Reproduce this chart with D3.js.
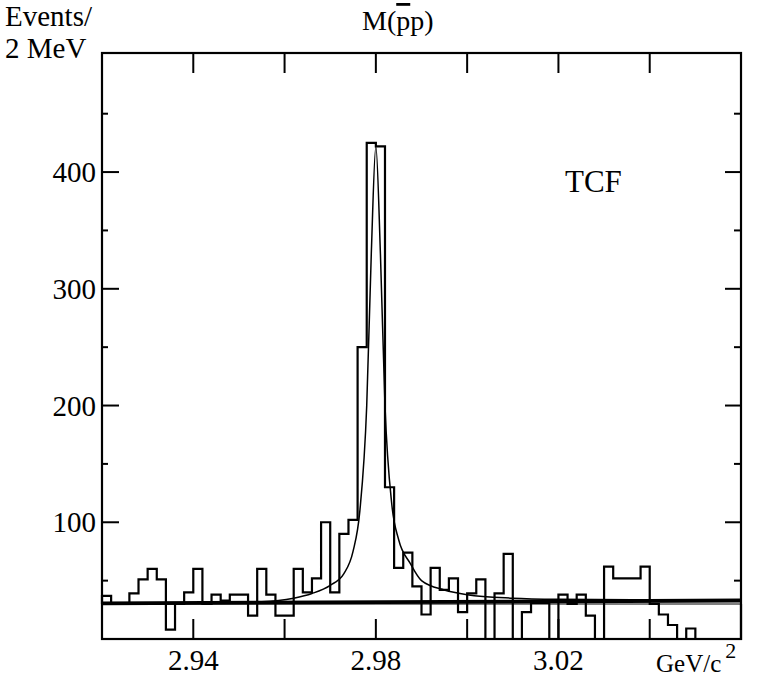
<!DOCTYPE html>
<html>
<head>
<meta charset="utf-8">
<script src="https://cdn.jsdelivr.net/npm/d3@7"></script>
<style>
  body { margin: 0; background: #fff; }
</style>
</head>
<body>
<div id="chart"></div>
<script>
// histogram: 2 MeV bins from 2.920 to 3.060 GeV
const binStart = 2.92;
const binWidth = 0.002;
const counts = [
  37, 30, 30, 39, 51, 60, 51, 8, 30, 40,
  60, 30, 38, 33, 38, 38, 20, 60, 38, 20,
  20, 60, 40, 52, 100, 40, 90, 102, 250, 425,
  422, 130, 61, 74, 45, 21, 61, 42, 52, 23,
  39, 51, 0, 39, 73, 0, 23, 31, 31, 0,
  38, 30, 38, 20, 0, 62, 52, 52, 52, 62,
  30, 21, 12, 0, 9, 0, 0, 0, 0, 0
];

// fitted curve
const fitMass = [2.920, 2.940, 2.955, 2.962, 2.966, 2.970, 2.973, 2.975, 2.9765, 2.978, 2.979, 2.980,
                 2.981, 2.982, 2.9835, 2.985, 2.9875, 2.990, 2.995, 3.000, 3.010, 3.020, 3.060];
const fitValue = [30.5, 31, 32, 35, 39, 46, 56, 75, 110, 200, 330, 422,
                  330, 200, 115, 85, 65, 50, 42, 38, 35, 34, 33];

// background lines
const bgMass = [2.92, 3.06];
const bgValue = [30.5, 33];
const flatLevel = 30;

const yMajor = [100, 200, 300, 400];
const yMinor = [50, 150, 250, 350, 450];
const xTicks = [2.94, 2.96, 2.98, 3.00, 3.02, 3.04];
const xLabels = [2.94, 2.98, 3.02];

const W = 764, H = 676;
const svg = d3.select("#chart").append("svg")
    .attr("width", W)
    .attr("height", H)
    .attr("font-family", "'Liberation Serif', 'Times New Roman', Tinos, 'DejaVu Serif', serif");

const x = d3.scaleLinear().domain([2.92, 3.06]).range([102, 741]);
const y = d3.scaleLinear().domain([0, 502]).range([639, 53]);

// histogram outline, stepping around the flat level
const pts = [[binStart, flatLevel]];
counts.forEach((c, i) => {
    pts.push([binStart + i * binWidth, c]);
    pts.push([binStart + (i + 1) * binWidth, c]);
});
pts.push([binStart + counts.length * binWidth, flatLevel]);

svg.append("path")
    .attr("d", d3.line().x(d => x(d[0])).y(d => y(d[1]))(pts))
    .attr("fill", "none")
    .attr("stroke", "#000")
    .attr("stroke-width", 2.2)
    .attr("stroke-linejoin", "miter");

// thin flat line
svg.append("line")
    .attr("x1", x(2.92)).attr("x2", x(3.06))
    .attr("y1", y(flatLevel)).attr("y2", y(flatLevel))
    .attr("stroke", "#000").attr("stroke-width", 1.2);

// thick background
svg.append("path")
    .attr("d", d3.line().x((d, i) => x(d)).y((d, i) => y(bgValue[i]))(bgMass))
    .attr("stroke", "#000").attr("stroke-width", 3.8).attr("fill", "none");

// fit curve
svg.append("path")
    .attr("d", d3.line().curve(d3.curveMonotoneX)
        .x(d => x(d)).y((d, i) => y(fitValue[i]))(fitMass))
    .attr("stroke", "#000").attr("stroke-width", 1.5).attr("fill", "none");

// frame
svg.append("rect")
    .attr("x", x(2.92)).attr("y", y(502))
    .attr("width", x(3.06) - x(2.92)).attr("height", y(0) - y(502))
    .attr("fill", "none").attr("stroke", "#000").attr("stroke-width", 2.2);

// y ticks, left (inward) and right (inward)
const tickG = svg.append("g").attr("stroke", "#000").attr("stroke-width", 2);
yMajor.forEach(v => {
    tickG.append("line").attr("x1", x(2.92)).attr("x2", x(2.92) + 17).attr("y1", y(v)).attr("y2", y(v));
    tickG.append("line").attr("x1", x(3.06)).attr("x2", x(3.06) - 16).attr("y1", y(v)).attr("y2", y(v));
});
yMinor.forEach(v => {
    tickG.append("line").attr("x1", x(2.92)).attr("x2", x(2.92) + 6).attr("y1", y(v)).attr("y2", y(v));
    tickG.append("line").attr("x1", x(3.06)).attr("x2", x(3.06) - 7).attr("y1", y(v)).attr("y2", y(v));
});
xTicks.forEach(v => {
    tickG.append("line").attr("x1", x(v)).attr("x2", x(v)).attr("y1", y(502)).attr("y2", y(502) + 20);
    tickG.append("line").attr("x1", x(v)).attr("x2", x(v)).attr("y1", y(0)).attr("y2", y(0) - 20);
});

// tick labels
svg.selectAll(".ylab").data(yMajor).join("text")
    .attr("x", 96).attr("y", d => y(d))
    .attr("dy", "0.35em")
    .attr("text-anchor", "end")
    .attr("font-size", 29)
    .text(d => d);

svg.selectAll(".xlab").data(xLabels).join("text")
    .attr("x", d => x(d)).attr("y", 670)
    .attr("text-anchor", "middle")
    .attr("font-size", 29)
    .text(d => d3.format(".2f")(d));

// axis titles
svg.append("text").attr("x", 5).attr("y", 26).attr("font-size", 29).text("Events/");
svg.append("text").attr("x", 5).attr("y", 58).attr("font-size", 29).text("2 MeV");

const mt = svg.append("text").attr("x", 362).attr("y", 30).attr("font-size", 28);
mt.append("tspan").text("M(");
mt.append("tspan").style("text-decoration", "overline").text("p");
mt.append("tspan").text("p)");

svg.append("text").attr("x", 565).attr("y", 192).attr("font-size", 31).text("TCF");

const gv = svg.append("text").attr("x", 656).attr("y", 672).attr("font-size", 25);
gv.append("tspan").text("GeV/c");
gv.append("tspan").attr("dx", 4).attr("dy", -14).attr("font-size", 22).text("2");
</script>
</body>
</html>
